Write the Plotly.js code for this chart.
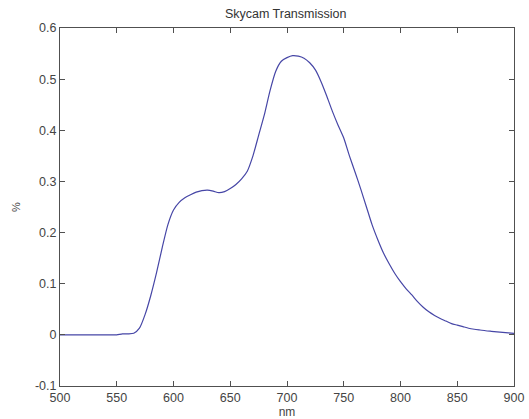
<!DOCTYPE html>
<html>
<head>
<meta charset="utf-8">
<script src="https://cdn.plot.ly/plotly-3.0.1.min.js"></script>
<style>html,body{margin:0;padding:0;background:#fff;}#chart{width:529px;height:419px;}</style>
</head>
<body>
<div id="chart"></div>
<script>
const wavelength = [500,505,510,515,520,525,530,535,540,545,550,555,560,565,570,575,580,585,590,595,600,605,610,615,620,625,630,635,640,645,650,655,660,665,670,675,680,685,690,695,700,705,710,715,720,725,730,735,740,745,750,755,760,765,770,775,780,785,790,795,800,805,810,815,820,825,830,835,840,845,850,855,860,865,870,875,880,885,890,895,900];
const transmission = [0,0,0,0,0,0,0,0,0,0,0,0.002,0.002,0.003,0.013,0.04,0.077,0.121,0.17,0.215,0.244,0.259,0.268,0.274,0.279,0.282,0.283,0.281,0.278,0.28,0.286,0.294,0.305,0.32,0.35,0.39,0.43,0.477,0.515,0.535,0.542,0.546,0.545,0.541,0.532,0.518,0.495,0.467,0.437,0.41,0.385,0.35,0.318,0.285,0.25,0.215,0.186,0.16,0.139,0.12,0.104,0.09,0.078,0.065,0.054,0.045,0.038,0.032,0.027,0.022,0.019,0.016,0.013,0.011,0.0095,0.008,0.007,0.006,0.005,0.004,0.003];
const xTicks = [500,550,600,650,700,750,800,850,900];
const xTickText = ["500","550","600","650","700","750","800","850","900"];
const yTicks = [-0.1,0,0.1,0.2,0.3,0.4,0.5,0.6];
const yTickText = ["-0.1","0","0.1","0.2","0.3","0.4","0.5","0.6"];

const FONT = 'Liberation Sans, Arial, sans-serif';
const trace = {
  x: wavelength, y: transmission, type: 'scatter', mode: 'lines',
  line: {color: '#4646a6', width: 1.2, shape: 'spline', smoothing: 0.6},
  hoverinfo: 'skip'
};
const axisCommon = {
  showgrid: false, zeroline: false, showline: true, mirror: 'ticks',
  linecolor: '#505050', linewidth: 1, ticks: 'inside', ticklen: 5, tickcolor: '#505050',
  tickfont: {family: FONT, size: 12.5, color: '#444'}
};
const layout = {
  width: 529, height: 419,
  margin: {l: 60, r: 15, t: 28, b: 33},
  paper_bgcolor: '#fff', plot_bgcolor: '#fff',
  showlegend: false,
  title: {text: 'Skycam Transmission', x: 0.54, xanchor: 'center', y: 0.968, yanchor: 'middle',
          font: {family: FONT, size: 12.5, color: '#333'}},
  xaxis: Object.assign({}, axisCommon, {
    range: [500, 900], tickmode: 'array', tickvals: xTicks, ticktext: xTickText,
    title: {text: 'nm', standoff: 5, font: {family: FONT, size: 12, color: '#444'}}
  }),
  yaxis: Object.assign({}, axisCommon, {
    range: [-0.1, 0.6], tickmode: 'array', tickvals: yTicks, ticktext: yTickText,
    title: {text: '%', standoff: 12, font: {family: FONT, size: 11, color: '#444'}}
  })
};
Plotly.newPlot('chart', [trace], layout, {staticPlot: true, displayModeBar: false});
</script>
</body>
</html>
